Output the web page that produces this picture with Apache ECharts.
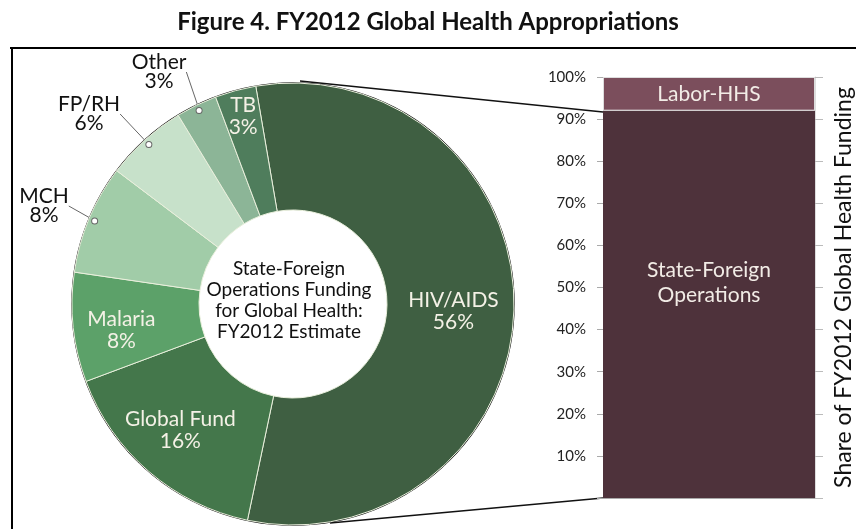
<!DOCTYPE html>
<html>
<head>
<meta charset="utf-8">
<script src="https://cdn.jsdelivr.net/npm/echarts@6/dist/echarts.min.js"></script>
<style>
  html, body { margin: 0; padding: 0; background: #fff; }
  #chart { width: 856px; height: 529px; }
</style>
</head>
<body>
<div id="chart"></div>
<script>
// pie: State-Foreign Operations funding for global health, FY2012 estimate
const categories = ['HIV/AIDS', 'Global Fund', 'Malaria', 'MCH', 'FP/RH', 'Other', 'TB'];
const shares = [56, 16, 8, 8, 6, 3, 3];
const outsideLabels = ['MCH', 'FP/RH', 'Other'];

// bar: share of FY2012 global health funding by bill
const accounts = ['State-Foreign Operations', 'Labor-HHS'];
const accountLabels = ['State-Foreign\nOperations', 'Labor-HHS'];
const accountShares = [92, 8];

const pieColors = ['#3f5f42', '#44774b', '#5ca169', '#a1cca8', '#c7e1ca', '#8cb597', '#4f7d5c'];
const barColors = ['#4e323b', '#7b4e5c'];
const font = 'Lato, "Gill Sans", "Noto Sans", sans-serif';

const pieCenter = [293, 304];
const startAngle = 99.7;

// label nudges inside the ring, and where the callout text sits
const insideOffsets = { 'Global Fund': [-8, 5], 'Malaria': [-12, 9], 'TB': [-8, -33], 'HIV/AIDS': [0, 4] };
const calloutPos = { 'MCH': [44, 206], 'FP/RH': [89, 114], 'Other': [159, 72] };

let chart = echarts.init(document.getElementById('chart'));

function mainPieData() {
    return categories.map((name, i) => {
        let item = { name, value: shares[i], itemStyle: { color: pieColors[i] } };
        if (outsideLabels.includes(name)) {
            item.label = { show: false };
        } else if (insideOffsets[name]) {
            item.label = { offset: insideOffsets[name] };
        }
        return item;
    });
}

function calloutData() {
    return categories.map((name, i) => {
        let show = outsideLabels.includes(name);
        return { name, value: shares[i], label: { show }, labelLine: { show } };
    });
}

function dotData() {
    return categories.map((name, i) => ({
        name,
        value: shares[i],
        label: { show: outsideLabels.includes(name) }
    }));
}

let option = {
    animation: false,
    title: {
        text: 'Figure 4. FY2012 Global Health Appropriations',
        left: 'center',
        top: 5,
        textStyle: { fontFamily: font, fontSize: 24, fontWeight: 'bold', color: '#111' }
    },
    grid: { left: 603, right: 38, top: 77, bottom: 31 },
    xAxis: {
        type: 'category',
        data: [''],
        axisLine: { lineStyle: { color: '#aaa' } },
        axisTick: { show: false },
        axisLabel: { show: false }
    },
    yAxis: [{
        type: 'value',
        min: 0,
        max: 100,
        interval: 10,
        position: 'left',
        axisLine: { show: false },
        axisTick: { show: true, length: 6, lineStyle: { color: '#aaa' } },
        splitLine: { show: false },
        axisLabel: {
            formatter: v => v === 0 ? '' : v + '%',
            color: '#222',
            fontFamily: font,
            fontSize: 15,
            margin: 17
        }
    }, {
        type: 'value',
        min: 0,
        max: 100,
        interval: 10,
        position: 'right',
        name: 'Share of FY2012 Global Health Funding',
        nameLocation: 'middle',
        nameRotate: 90,
        nameGap: 17,
        nameTextStyle: { fontFamily: font, fontSize: 23, color: '#111' },
        axisLine: { show: true, lineStyle: { color: '#ddd' } },
        axisTick: { show: true, length: 8, lineStyle: { color: '#bbb' } },
        axisLabel: { show: false },
        splitLine: { show: false }
    }],
    series: [{
        type: 'pie',
        center: pieCenter,
        radius: [94, 221],
        startAngle: startAngle,
        clockwise: true,
        silent: true,
        itemStyle: { borderColor: '#e9efdc', borderWidth: 1 },
        label: {
            show: true,
            position: 'inside',
            formatter: '{b}\n{c}%',
            color: '#f4f1e6',
            fontFamily: font,
            fontSize: 21,
            lineHeight: 22
        },
        labelLine: { show: false },
        data: mainPieData()
    }, {
        type: 'pie',
        center: pieCenter,
        radius: [94, 212],
        startAngle: startAngle,
        clockwise: true,
        silent: true,
        avoidLabelOverlap: false,
        itemStyle: { color: 'rgba(0,0,0,0)' },
        label: {
            position: 'outside',
            formatter: '{b}\n{c}%',
            color: '#111',
            fontFamily: font,
            fontSize: 21,
            lineHeight: 19
        },
        labelLine: {
            show: true,
            length: 0,
            length2: 0,
            minTurnAngle: 0,
            maxSurfaceAngle: 180,
            lineStyle: { color: '#666', width: 1 }
        },
        labelLayout: params => {
            let pos = calloutPos[categories[params.dataIndex]];
            if (!pos) return {};
            return { x: pos[0], y: pos[1], align: 'center', verticalAlign: 'middle' };
        },
        data: calloutData()
    }, {
        type: 'pie',
        center: pieCenter,
        radius: [205, 219],
        startAngle: startAngle,
        clockwise: true,
        silent: true,
        itemStyle: { color: 'rgba(0,0,0,0)' },
        label: {
            position: 'inside',
            formatter: '{d|}',
            rich: {
                d: {
                    width: 5, height: 5, borderRadius: 3,
                    backgroundColor: '#fff', borderColor: '#666', borderWidth: 1
                }
            }
        },
        labelLine: { show: false },
        data: dotData()
    }, {
        type: 'bar',
        name: accounts[0],
        stack: 'total',
        barWidth: '100%',
        silent: true,
        itemStyle: { color: barColors[0] },
        label: {
            show: true,
            position: 'inside',
            offset: [0, -22],
            formatter: accountLabels[0],
            color: '#f2ece6',
            fontFamily: font,
            fontSize: 21,
            lineHeight: 25
        },
        data: [accountShares[0]]
    }, {
        type: 'bar',
        name: accounts[1],
        stack: 'total',
        barWidth: '100%',
        silent: true,
        itemStyle: { color: barColors[1], borderColor: '#ddd', borderWidth: 1 },
        label: {
            show: true,
            position: 'inside',
            formatter: accountLabels[1],
            color: '#f2ece6',
            fontFamily: font,
            fontSize: 21
        },
        data: [accountShares[1]]
    }],
    graphic: [{
        type: 'line',
        shape: { x1: 10, y1: 48, x2: 856, y2: 48 },
        style: { stroke: '#000', lineWidth: 2 }
    }, {
        type: 'line',
        shape: { x1: 12, y1: 48, x2: 12, y2: 529 },
        style: { stroke: '#000', lineWidth: 2 }
    }, {
        type: 'circle',
        shape: { cx: pieCenter[0], cy: pieCenter[1], r: 221 },
        style: { fill: null, stroke: '#111', lineWidth: 1.5 },
        silent: true
    }, {
        type: 'line',
        shape: { x1: 300, y1: 81, x2: 603, y2: 112 },
        style: { stroke: '#111', lineWidth: 1.5 }
    }, {
        type: 'line',
        shape: { x1: 330, y1: 523, x2: 603, y2: 498 },
        style: { stroke: '#111', lineWidth: 1.5 }
    }, {
        type: 'text',
        x: pieCenter[0] - 4,
        y: pieCenter[1] - 4,
        style: {
            text: 'State-Foreign\nOperations Funding\nfor Global Health:\nFY2012 Estimate',
            align: 'center',
            verticalAlign: 'middle',
            fontFamily: font,
            fontSize: 19,
            lineHeight: 21,
            fill: '#111'
        }
    }]
};

chart.setOption(option);
</script>
</body>
</html>
